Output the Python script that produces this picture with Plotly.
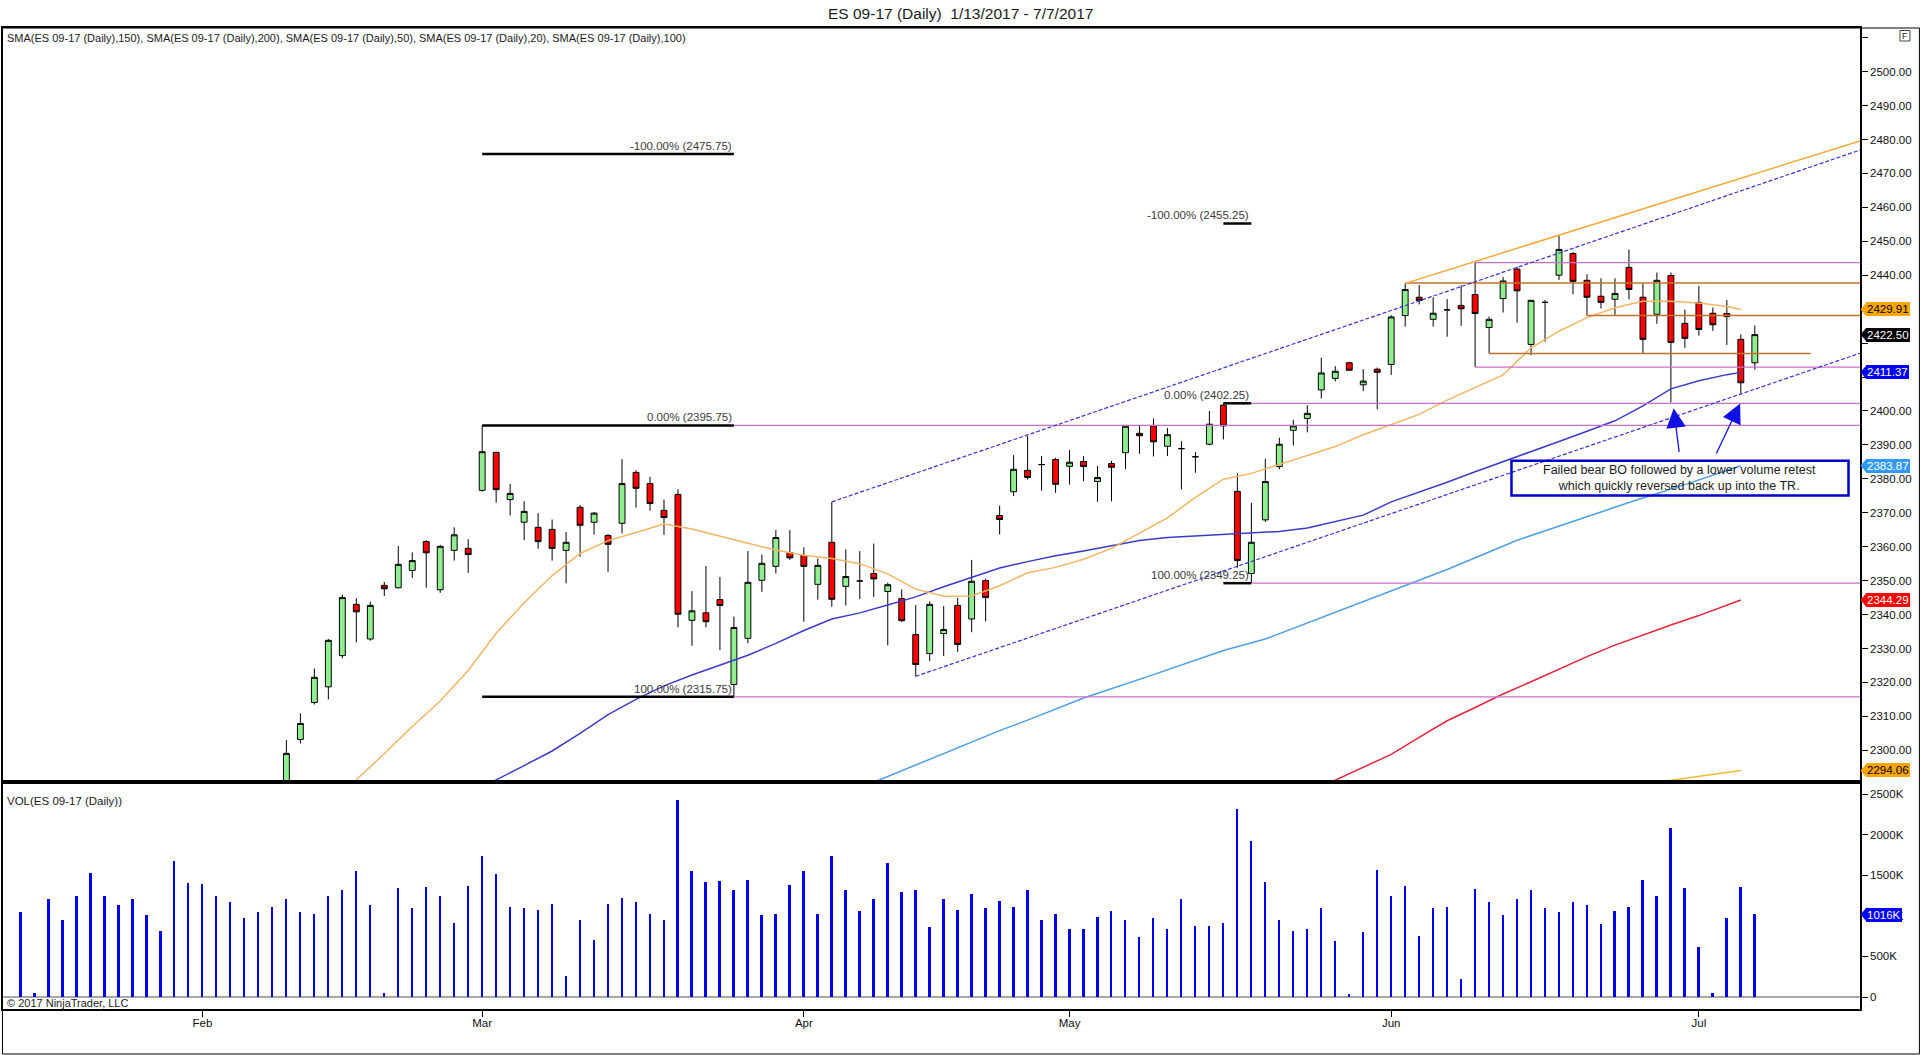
import plotly.graph_objects as go

# ---------------- data ----------------
jan_days = [13, 16, 17, 18, 19, 20, 23, 24, 25, 26, 27, 30, 31]
feb_days = [1, 2, 3, 6, 7, 8, 9, 10, 13, 14, 15, 16, 17, 20, 21, 22, 23, 24, 27, 28]
mar_days = [1, 2, 3, 6, 7, 8, 9, 10, 13, 14, 15, 16, 17, 20, 21, 22, 23, 24, 27, 28, 29, 30, 31]
apr_days = [3, 4, 5, 6, 7, 10, 11, 12, 13, 17, 18, 19, 20, 21, 24, 25, 26, 27, 28]
may_days = [1, 2, 3, 4, 5, 8, 9, 10, 11, 12, 15, 16, 17, 18, 19, 22, 23, 24, 25, 26, 29, 30, 31]
jun_days = [1, 2, 5, 6, 7, 8, 9, 12, 13, 14, 15, 16, 19, 20, 21, 22, 23, 26, 27, 28, 29, 30]
jul_days = [3, 4, 5, 6, 7]
month_days = [(1, jan_days), (2, feb_days), (3, mar_days), (4, apr_days),
              (5, may_days), (6, jun_days), (7, jul_days)]
dates = [f"2017-{m:02d}-{d:02d}" for m, days in month_days for d in days]
month_labels = ["Feb", "Mar", "Apr", "May", "Jun", "Jul"]

volume_k = [1047, 41, 1211, 952, 1248, 1531, 1248, 1137, 1199, 1002, 813, 1679, 1404, 1392, 1236,
            1174, 965, 1039, 1112, 1199, 1039, 1026, 1236, 1310, 1556, 1125, 41, 1346, 1100, 1359,
            1248, 903, 1371, 1740, 1519, 1112, 1100, 1075, 1149, 250, 940, 694, 1149, 1223, 1174,
            1026, 952, 2430, 1556, 1420, 1433, 1322, 1445, 1002, 1026, 1383, 1556, 1014, 1740, 1322,
            1063, 1199, 1654, 1297, 1310, 854,
            1199, 1075, 1272, 1100, 1186, 1112, 1310, 952, 1014, 829, 841, 977, 1063, 952, 731,
            965, 829, 1199, 878, 878, 903, 2319, 1925, 1420, 940, 805, 841, 1100, 681, 29, 792,
            1568, 1248, 1371, 743, 1100, 1112, 213, 1334, 1174, 1002, 1199, 1310, 1088, 1039, 1174,
            1125, 891, 1063, 1112, 1445, 1236, 2085, 1346, 607, 41, 965, 1359, 1016]

# candles visible in the price panel start on this session
ohlc_first_date = "2017-02-09"
opens = [2289.0, 2303.2, 2314.1, 2318.7, 2327.9, 2343.0, 2332.8, 2348.6, 2347.9, 2353.0,
         2361.5, 2347.3, 2358.9, 2359.5, 2376.6, 2387.8, 2373.9, 2367.2, 2365.7, 2365.1,
         2358.9, 2371.6, 2367.2, 2363.3, 2366.9, 2381.9, 2378.6, 2370.7, 2375.4, 2338.3,
         2340.5, 2344.4, 2319.4, 2333.0, 2350.1, 2354.2, 2358.3, 2357.4, 2348.9, 2361.3,
         2348.3, 2349.9, 2352.1, 2346.8, 2344.7, 2334.1, 2328.5, 2334.4, 2342.7, 2338.7,
         2350.0, 2369.2, 2376.2, 2382.5, 2384.2, 2385.7, 2383.7, 2385.1, 2379.2, 2384.5,
         2387.7, 2393.4, 2395.6, 2389.6, 2388.9, 2386.5, 2390.2, 2401.7, 2376.3, 2352.1,
         2367.9, 2383.6, 2394.3, 2397.8, 2406.2, 2409.6, 2414.2, 2407.7, 2412.3, 2413.7,
         2428.1, 2433.5, 2427.0, 2429.8, 2431.1, 2434.3, 2424.6, 2433.1, 2441.8, 2419.6,
         2432.0, 2440.0, 2446.4, 2438.5, 2433.8, 2432.9, 2442.3, 2433.5, 2428.5, 2439.9,
         2425.8, 2432.0, 2428.8, 2428.7, 2421.1, 2414.2]
highs = [2303.0, 2310.9, 2324.1, 2332.8, 2345.9, 2344.8, 2343.8, 2349.6, 2360.2, 2358.3,
         2361.9, 2360.5, 2365.7, 2362.2, 2395.75, 2388.0, 2378.5, 2373.4, 2369.9, 2368.0,
         2364.3, 2372.3, 2370.2, 2363.7, 2385.8, 2382.5, 2380.6, 2373.9, 2376.9, 2346.9,
         2354.3, 2351.1, 2339.4, 2358.7, 2357.7, 2364.9, 2364.9, 2359.8, 2356.5, 2373.2,
         2359.2, 2358.7, 2360.95, 2349.4, 2347.4, 2342.8, 2343.9, 2342.5, 2344.9, 2356.1,
         2350.6, 2372.1, 2387.0, 2392.6, 2386.7, 2386.2, 2388.5, 2386.7, 2383.8, 2385.3,
         2395.6, 2395.6, 2397.8, 2395.0, 2391.1, 2387.9, 2400.0, 2402.25, 2381.6, 2372.9,
         2385.9, 2392.1, 2397.4, 2401.7, 2415.7, 2413.2, 2414.5, 2412.3, 2412.8, 2428.2,
         2437.6, 2437.1, 2433.5, 2433.0, 2437.0, 2443.7, 2427.8, 2439.5, 2442.5, 2432.7,
         2432.7, 2451.8, 2446.9, 2440.3, 2439.1, 2439.1, 2447.6, 2437.6, 2440.8, 2440.8,
         2429.9, 2436.8, 2430.5, 2432.7, 2422.6, 2425.2]
lows = [2287.0, 2302.0, 2313.5, 2315.0, 2327.1, 2331.8, 2332.3, 2345.5, 2347.7, 2350.8,
        2347.9, 2346.4, 2355.9, 2352.3, 2376.2, 2373.0, 2369.2, 2361.9, 2359.4, 2355.9,
        2349.2, 2357.0, 2363.6, 2352.6, 2363.9, 2371.5, 2370.6, 2363.5, 2336.2, 2330.8,
        2336.2, 2329.5, 2315.75, 2331.5, 2346.7, 2352.1, 2356.1, 2337.9, 2344.4, 2342.3,
        2342.7, 2344.6, 2345.2, 2330.9, 2337.8, 2321.8, 2326.3, 2327.8, 2329.0, 2334.8,
        2338.0, 2363.6, 2374.9, 2379.8, 2376.5, 2375.9, 2378.3, 2379.3, 2373.2, 2373.4,
        2382.8, 2387.4, 2386.6, 2386.7, 2376.9, 2381.8, 2389.9, 2391.6, 2353.8, 2349.25,
        2367.3, 2382.8, 2389.8, 2393.7, 2403.7, 2408.7, 2412.0, 2405.9, 2400.5, 2410.6,
        2424.8, 2431.4, 2424.8, 2421.9, 2425.1, 2412.9, 2417.0, 2429.0, 2426.0, 2416.4,
        2420.4, 2438.6, 2434.4, 2428.1, 2430.2, 2428.3, 2432.9, 2416.8, 2425.7, 2402.5,
        2418.6, 2422.2, 2423.6, 2419.4, 2405.2, 2412.2]
closes = [2299.1, 2307.9, 2321.5, 2332.4, 2345.0, 2340.8, 2342.7, 2347.6, 2354.8, 2355.9,
          2358.2, 2360.1, 2363.5, 2357.7, 2388.0, 2376.8, 2375.7, 2370.4, 2361.5, 2359.5,
          2361.3, 2366.3, 2369.9, 2360.7, 2378.6, 2377.2, 2372.7, 2368.6, 2340.1, 2341.1,
          2337.9, 2342.7, 2336.2, 2349.5, 2355.1, 2362.7, 2356.7, 2354.2, 2354.5, 2344.5,
          2351.2, 2349.9, 2350.5, 2348.8, 2338.2, 2325.3, 2343.0, 2335.6, 2331.2, 2349.8,
          2345.0, 2368.0, 2382.8, 2380.4, 2384.2, 2378.4, 2384.9, 2383.6, 2380.4, 2383.4,
          2395.5, 2392.7, 2390.9, 2393.0, 2388.9, 2386.5, 2396.1, 2395.6, 2355.9, 2361.3,
          2379.2, 2390.2, 2395.6, 2399.3, 2411.2, 2411.7, 2412.0, 2408.8, 2411.4, 2427.7,
          2435.8, 2432.6, 2428.8, 2429.8, 2430.1, 2428.7, 2427.0, 2438.3, 2435.4, 2432.6,
          2432.0, 2447.6, 2438.2, 2433.5, 2432.0, 2434.6, 2435.8, 2421.1, 2438.5, 2420.2,
          2421.4, 2424.0, 2425.4, 2427.8, 2408.3, 2422.5]

# moving averages (bar number, value)
sma20_bar = [23, 24, 26, 28, 30, 32, 34, 36, 38, 40, 42, 44, 46, 48, 50, 52, 54, 56, 58, 60,
             62, 64, 66, 68, 70, 72, 74, 76, 78, 80, 82, 84, 86, 88, 90, 92, 94, 96, 98, 100,
             102, 104, 106, 107, 108, 110, 112, 114, 116, 118, 120, 122, 123]
sma20_val = [2287.5, 2291.3, 2299.0, 2307.0, 2314.5, 2323.5, 2334.5, 2343.5, 2351.5, 2358.0,
             2361.8, 2364.2, 2366.7, 2365.2, 2363.0, 2361.0, 2359.0, 2357.5, 2356.5, 2355.0,
             2352.0, 2347.5, 2345.4, 2345.5, 2348.5, 2352.3, 2353.9, 2356.3, 2359.5, 2363.9,
             2368.5, 2374.5, 2379.9, 2381.6, 2384.3, 2386.8, 2389.5, 2393.0, 2396.0, 2399.0,
             2403.2, 2407.0, 2410.6, 2414.6, 2418.6, 2423.5, 2427.5, 2430.4, 2432.3, 2432.3,
             2431.8, 2430.8, 2429.91]
sma50_bar = [33, 34, 36, 38, 40, 42, 44, 46, 48, 50, 52, 54, 56, 58, 60, 62, 64, 66, 68, 70,
             72, 74, 76, 78, 80, 82, 84, 86, 88, 90, 92, 94, 96, 98, 100, 102, 104, 106, 108, 110,
             112, 114, 116, 118, 120, 122, 123]
sma50_val = [2288.5, 2291.3, 2295.5, 2299.8, 2305.0, 2310.5, 2315.0, 2319.0, 2322.2, 2325.0,
             2328.0, 2331.5, 2335.3, 2338.7, 2340.5, 2342.8, 2345.2, 2348.2, 2351.0, 2353.7,
             2355.6, 2357.3, 2358.7, 2360.2, 2361.8, 2362.7, 2363.2, 2363.6, 2364.0, 2364.5,
             2365.5, 2367.3, 2369.3, 2373.2, 2376.0, 2379.0, 2382.1, 2385.0, 2388.0, 2391.0,
             2394.0, 2397.1, 2401.5, 2406.5, 2408.9, 2410.7, 2411.37]
sma100_bar = [60, 62, 66, 70, 72, 76, 81, 86, 89, 92, 95, 98, 102, 107, 111, 115, 119, 123]
sma100_val = [2288.9, 2292.3, 2299.0, 2305.8, 2308.9, 2315.4, 2322.3, 2329.4, 2332.8, 2337.5,
              2342.2, 2346.9, 2353.3, 2361.9, 2367.5, 2373.0, 2378.3, 2383.87]
sma150_bar = [93, 94, 96, 98, 100, 102, 104, 106, 108, 110, 112, 114, 116, 118, 120, 122, 123]
sma150_val = [2289.3, 2291.2, 2294.9, 2298.8, 2303.8, 2308.7, 2312.6, 2316.6, 2320.2, 2324.0,
              2327.6, 2331.0, 2334.0, 2336.9, 2339.7, 2342.8, 2344.29]
sma200_bar = [116, 118, 120, 122, 123]
sma200_val = [2290.0, 2291.2, 2292.4, 2293.5, 2294.06]

# drawing objects
fib_sets = [("2017-03-01", "2017-03-27", 2395.75, 2315.75),
            ("2017-05-16", "2017-05-18", 2402.25, 2349.25)]
magenta_rays = [("2017-03-27", 2395.75), ("2017-03-27", 2315.75),
                ("2017-05-18", 2402.25), ("2017-05-18", 2349.25),
                ("2017-06-09", 2443.7), ("2017-06-09", 2412.9)]
brown_levels = [("2017-06-02", None, 2437.7), ("2017-06-21", None, 2428.1),
                ("2017-06-12", 128, 2416.96)]
channel_lower = [("2017-04-13", 2321.8), ("2017-07-06", 2405.0)]
channel_upper_anchor = ("2017-04-05", 2373.2)
orange_trend = [("2017-06-02", 2437.6), ("2017-06-19", 2451.8)]
arrows = [((118.6, 2387.5), (118.2, 2400.8)), ((121.2, 2387.0), (122.95, 2402.2))]
note_box = (106.6, 130.7, 2375.1, 2385.3)
note_text = "Failed bear BO followed by a lower volume retest<br>which quickly reversed back up into the TR."

# ---------------- layout geometry ----------------
W, H = 1920, 1055
ML, MR, MT, MB = 1, 60, 28, 46
PW, PH = W - ML - MR, H - MT - MB
def pxx(px):
    return (px - ML) / PW
def pxy(py):
    return (H - MB - py) / PH

X0, X1 = (ML - 18.7) / 14.0, (W - MR - 18.7) / 14.0
PRICE_RANGE = [2290.57, 2512.85]
VOL_RANGE = [-148000, 2648000]
SPLIT = pxy(782.3)
FONT = "Liberation Sans, Arial, sans-serif"

bar = {d: i for i, d in enumerate(dates)}
N = len(dates)
x_all = list(range(N))
first = bar[ohlc_first_date]
cx = list(range(first, first + len(opens)))

fig = go.Figure()

sma_specs = [(sma200_bar, sma200_val, "#EDBB2E"), (sma150_bar, sma150_val, "#E3243B"),
             (sma100_bar, sma100_val, "#4C9FE6"), (sma50_bar, sma50_val, "#3B3BCB"),
             (sma20_bar, sma20_val, "#F3B562")]
for bx, vals, col in sma_specs:
    fig.add_trace(go.Scatter(x=bx, y=vals, mode="lines", line=dict(color=col, width=1.5),
                             xaxis="x", yaxis="y", hoverinfo="skip"))

fig.add_trace(go.Candlestick(
    x=cx, open=opens, high=highs, low=lows, close=closes, xaxis="x", yaxis="y",
    increasing=dict(line=dict(color="black", width=1), fillcolor="#90EE90"),
    decreasing=dict(line=dict(color="black", width=1), fillcolor="#FF0000"),
    whiskerwidth=0, hoverinfo="skip"))

fig.add_trace(go.Bar(x=x_all, y=[v * 1000 for v in volume_k], width=0.14,
                     marker=dict(color="#0000EE", line=dict(width=0)),
                     xaxis="x2", yaxis="y2", hoverinfo="skip"))

shapes = []
annotations = []

# fib retracements
for s, e, hi, lo in fib_sets:
    xs, xe = bar[s], bar[e]
    rng = hi - lo
    for pct in (-100.0, 0.0, 100.0):
        lvl = hi - rng * pct / 100.0
        shapes.append(dict(type="line", xref="x", yref="y", x0=xs, x1=xe, y0=lvl, y1=lvl,
                           line=dict(color="black", width=2.5)))
        annotations.append(dict(x=xe, y=lvl, xref="x", yref="y", xanchor="right", yanchor="bottom",
                                text=f"{pct:.2f}% ({lvl:.2f})", showarrow=False, yshift=0,
                                font=dict(family=FONT, size=11.5, color="#3a3a3a")))

for d, lvl in magenta_rays:
    shapes.append(dict(type="line", xref="x", yref="y", x0=bar[d], x1=X1, y0=lvl, y1=lvl,
                       line=dict(color="#CC6FCC", width=1.2)))

for d, end, lvl in brown_levels:
    shapes.append(dict(type="line", xref="x", yref="y", x0=bar[d], x1=X1 if end is None else end,
                       y0=lvl, y1=lvl, line=dict(color="#C8702A", width=1.5)))

# channel
(la, lpa), (lb, lpb) = channel_lower
slope = (lpb - lpa) / (bar[lb] - bar[la])
shapes.append(dict(type="line", xref="x", yref="y", x0=bar[la], y0=lpa,
                   x1=X1, y1=lpa + slope * (X1 - bar[la]),
                   line=dict(color="#3535D0", width=1.2, dash="4px,2px")))
ua, upa = channel_upper_anchor
shapes.append(dict(type="line", xref="x", yref="y", x0=bar[ua], y0=upa,
                   x1=X1, y1=upa + slope * (X1 - bar[ua]),
                   line=dict(color="#3535D0", width=1.2, dash="4px,2px")))

(oa, opa), (ob, opb) = orange_trend
oslope = (opb - opa) / (bar[ob] - bar[oa])
shapes.append(dict(type="line", xref="x", yref="y", x0=bar[oa], y0=opa,
                   x1=X1, y1=opa + oslope * (X1 - bar[oa]),
                   line=dict(color="#F4A835", width=1.5)))

# note box and arrows
bx0, bx1, by0, by1 = note_box
shapes.append(dict(type="rect", xref="x", yref="y", x0=bx0, x1=bx1, y0=by0, y1=by1,
                   line=dict(color="#0000CC", width=2.5), fillcolor="rgba(0,0,0,0)"))
annotations.append(dict(x=(bx0 + bx1) / 2, y=(by0 + by1) / 2, xref="x", yref="y",
                        text=note_text, showarrow=False, align="center",
                        font=dict(family=FONT, size=12.5, color="#222222")))
for (tx, ty), (hx, hy) in arrows:
    annotations.append(dict(x=hx, y=hy, ax=tx, ay=ty, xref="x", yref="y", axref="x", ayref="y",
                            text="", showarrow=True, arrowhead=2, arrowsize=3, arrowwidth=1.3,
                            arrowcolor="#1010E6", standoff=0))

# price/volume tags on the right axis
tag_values = []
def add_tag(value, text, bg, fg, yref, rng, dom):
    yp = dom[0] + (value - rng[0]) / (rng[1] - rng[0]) * (dom[1] - dom[0])
    h = 7.0 / PH
    shapes.append(dict(type="path", xref="paper", yref="paper",
                       path=f"M {pxx(1860.5)},{yp} L {pxx(1866.5)},{yp + h} L {pxx(1866.5)},{yp - h} Z",
                       fillcolor=bg, line=dict(width=0)))
    annotations.append(dict(x=pxx(1866), y=value, xref="paper", yref=yref, xanchor="left",
                            yanchor="middle", text=text, showarrow=False, bgcolor=bg,
                            bordercolor=bg, borderwidth=1, borderpad=0,
                            font=dict(family=FONT, size=11.5, color=fg)))
    if yref == "y":
        tag_values.append(value)

pdom = [SPLIT, 1.0]
vdom = [0.0, SPLIT]
add_tag(sma20_val[-1], f"{sma20_val[-1]:.2f}", "#FFA500", "black", "y", PRICE_RANGE, pdom)
add_tag(closes[-1], f"{closes[-1]:.2f}", "black", "white", "y", PRICE_RANGE, pdom)
add_tag(sma50_val[-1], f"{sma50_val[-1]:.2f}", "#0000FF", "white", "y", PRICE_RANGE, pdom)
add_tag(sma100_val[-1], f"{sma100_val[-1]:.2f}", "#3399FF", "white", "y", PRICE_RANGE, pdom)
add_tag(sma150_val[-1], f"{sma150_val[-1]:.2f}", "#FF0000", "white", "y", PRICE_RANGE, pdom)
add_tag(sma200_val[-1], f"{sma200_val[-1]:.2f}", "#FFA500", "black", "y", PRICE_RANGE, pdom)
add_tag(volume_k[-1] * 1000, f"{volume_k[-1]}K", "#0000FF", "white", "y2", VOL_RANGE, vdom)

# texts
def label(px, py, text, size=11.0, xanchor="left"):
    annotations.append(dict(x=pxx(px), y=pxy(py), xref="paper", yref="paper", xanchor=xanchor,
                            yanchor="middle", showarrow=False, text=text,
                            font=dict(family=FONT, size=size, color="#1a1a1a")))

label(960, 13, "ES 09-17 (Daily)\u00a0\u00a01/13/2017 - 7/7/2017", size=15.5, xanchor="center")
label(3, 38, "SMA(ES 09-17 (Daily),150), SMA(ES 09-17 (Daily),200), SMA(ES 09-17 (Daily),50), "
             "SMA(ES 09-17 (Daily),20), SMA(ES 09-17 (Daily),100)")
label(3, 801, "VOL(ES 09-17 (Daily))", size=11.5)
label(3, 1003, "\u00a9 2017 NinjaTrader, LLC")
label(1905, 36, "F", size=9, xanchor="center")
shapes.append(dict(type="rect", xref="paper", yref="paper", x0=pxx(1900), x1=pxx(1910),
                   y0=pxy(41), y1=pxy(30.5), line=dict(color="#444444", width=1)))
# outer frame
shapes.append(dict(type="rect", xref="paper", yref="paper", x0=pxx(0.5), x1=pxx(1919.5),
                   y0=pxy(1054), y1=pxy(28), line=dict(color="black", width=1)))

tick_bars = [i for i in range(1, N) if dates[i][5:7] != dates[i - 1][5:7]]
price_ticks = list(range(2300, 2520, 10))
price_text = ["" if (v > 2500 or any(abs(v - t) < 3.5 for t in tag_values)) else f"{v:.2f}"
              for v in price_ticks]
vol_ticks = [0, 500000, 1000000, 1500000, 2000000, 2500000]
vol_text = ["0", "500K", "1000K", "1500K", "2000K", "2500K"]

axis_common = dict(showgrid=False, zeroline=False, showline=True, linecolor="black",
                   linewidth=1.5, mirror=True)
tickfont = dict(family=FONT, size=11.5, color="#111111")
fig.update_layout(
    width=W, height=H, margin=dict(l=ML, r=MR, t=MT, b=MB),
    paper_bgcolor="white", plot_bgcolor="white", showlegend=False, hovermode=False,
    boxgap=0.4, bargap=0,
    xaxis=dict(domain=[0, 1], anchor="y", range=[X0, X1], showticklabels=False, ticks="",
               rangeslider=dict(visible=False), **axis_common),
    yaxis=dict(domain=pdom, anchor="x", side="right", range=PRICE_RANGE, tickvals=price_ticks,
               ticktext=price_text, ticks="outside", ticklen=6, tickcolor="black",
               tickfont=tickfont, **axis_common),
    xaxis2=dict(domain=[0, 1], anchor="y2", range=[X0, X1], matches="x", tickvals=tick_bars,
                ticktext=month_labels, ticks="outside", ticklen=6, tickcolor="black",
                ticklabelstandoff=-4, tickfont=tickfont, **axis_common),
    yaxis2=dict(domain=vdom, anchor="x2", side="right", range=VOL_RANGE, tickvals=vol_ticks,
                ticktext=vol_text, ticks="outside", ticklen=6, tickcolor="black",
                tickfont=tickfont,
                showgrid=False, showline=True, linecolor="black", linewidth=1.5, mirror=True,
                zeroline=True, zerolinecolor="#A8A8A8", zerolinewidth=1.5),
    shapes=shapes, annotations=annotations,
)

fig.write_html("out.html", config={"displayModeBar": False},
               post_script="document.body.style.margin='0px';")
